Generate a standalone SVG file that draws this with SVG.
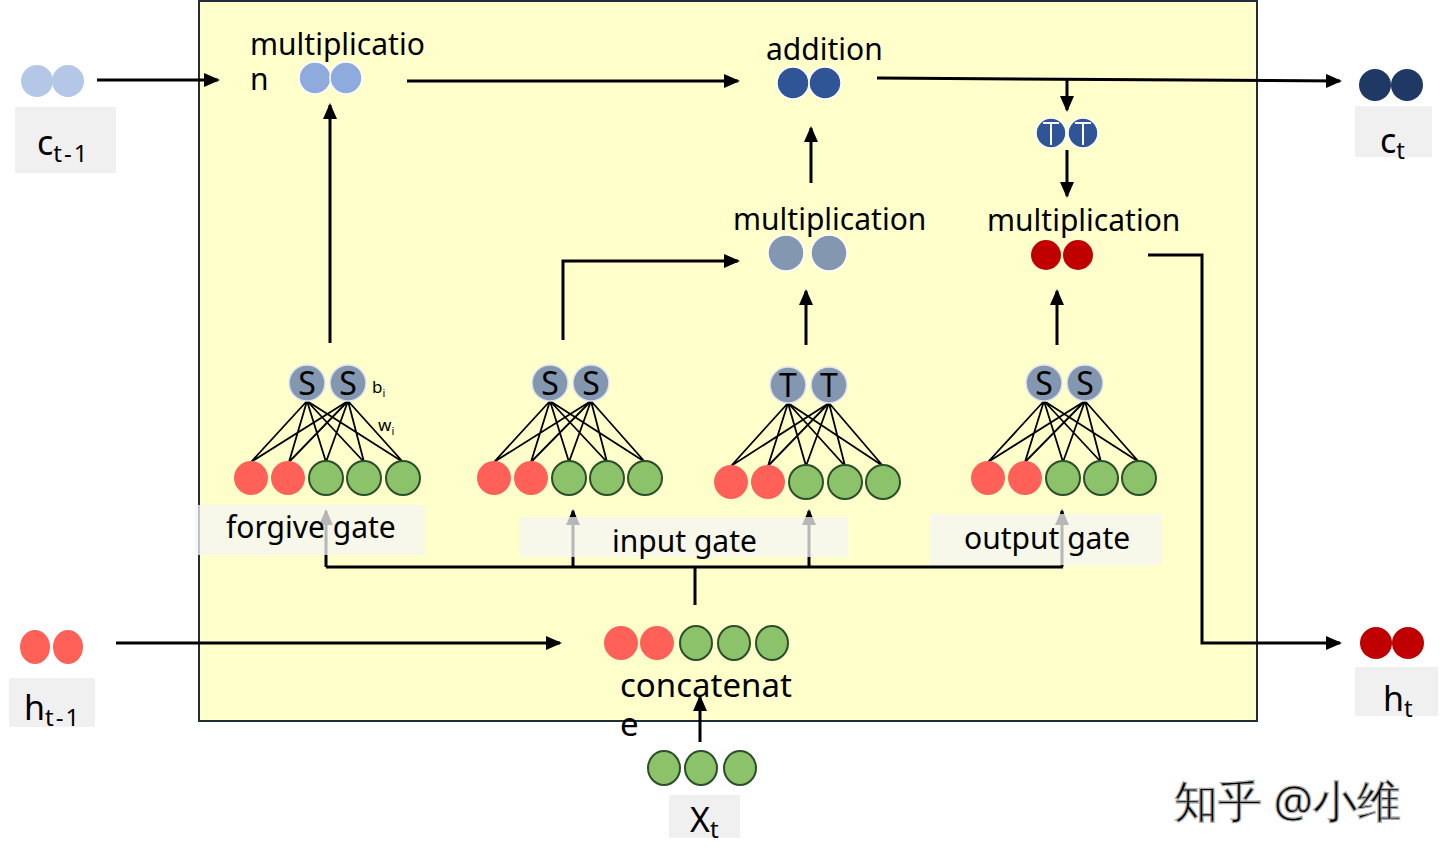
<svg xmlns="http://www.w3.org/2000/svg" width="1440" height="861" viewBox="0 0 1440 861">
<defs>
<marker id="ah" markerUnits="userSpaceOnUse" markerWidth="16" markerHeight="14" refX="14" refY="7" orient="auto"><path d="M0,0 L16,7 L0,14 z" fill="#000"/></marker>
</defs>
<style>
text{font-family:"Noto Sans","Open Sans","Liberation Sans",sans-serif;fill:#000}
.t{font-size:30px}
.lbl{fill:#f0f0f0}
.glbl{fill:#f4f4f4;opacity:0.75}
.ln{stroke:#000;stroke-width:3;fill:none}
.w{stroke:#000;stroke-width:1.8}
.sn{fill:#8497b0;stroke:#dfe4ee;stroke-width:1.5}
.red{fill:#ff6158}
.grn{fill:#8cc26a;stroke:#2b4f2b;stroke-width:2}
.sym{font-size:32px;text-anchor:middle}
.sub{font-size:24px;letter-spacing:2px}
</style>
<rect x="199" y="1" width="1058" height="720" fill="#ffffcc" stroke="#222d3a" stroke-width="2"/>

<g id="connectors">
<line class="ln" x1="97" y1="80" x2="218" y2="80" marker-end="url(#ah)"/>
<line class="ln" x1="407" y1="81" x2="738" y2="81" marker-end="url(#ah)"/>
<line class="ln" x1="877" y1="78" x2="1340" y2="81" marker-end="url(#ah)"/>
<line class="ln" x1="1067" y1="80" x2="1067" y2="110" marker-end="url(#ah)"/>
<line class="ln" x1="1067" y1="150" x2="1067" y2="196" marker-end="url(#ah)"/>
<line class="ln" x1="330" y1="343" x2="330" y2="105" marker-end="url(#ah)"/>
<polyline class="ln" points="563,340 563,261 738,261" marker-end="url(#ah)"/>
<line class="ln" x1="811" y1="183" x2="811" y2="128" marker-end="url(#ah)"/>
<line class="ln" x1="806" y1="345" x2="806" y2="291" marker-end="url(#ah)"/>
<line class="ln" x1="1057" y1="345" x2="1057" y2="291" marker-end="url(#ah)"/>
<polyline class="ln" points="1148,255 1202,255 1202,643 1340,643" marker-end="url(#ah)"/>
<line class="ln" x1="116" y1="643" x2="560" y2="643" marker-end="url(#ah)"/>
<line class="ln" x1="700" y1="742" x2="700" y2="697" marker-end="url(#ah)"/>
<polyline class="ln" points="695,605 695,567"/>
<line class="ln" x1="326" y1="567" x2="1063" y2="567"/>
<line class="ln" x1="326" y1="567" x2="326" y2="511" marker-end="url(#ah)"/>
<line class="ln" x1="573" y1="567" x2="573" y2="511" marker-end="url(#ah)"/>
<line class="ln" x1="809" y1="567" x2="809" y2="511" marker-end="url(#ah)"/>
<line class="ln" x1="1062" y1="567" x2="1062" y2="511" marker-end="url(#ah)"/>
</g>

<g id="c_prev">
<circle cx="37" cy="81" r="16" fill="#b4c7e7"/><circle cx="68" cy="81" r="16" fill="#b4c7e7"/>
<rect class="lbl" x="15" y="107" width="101" height="66"/>
<text x="37" y="155" font-size="34">c<tspan class="sub" dy="7">t-1</tspan></text>
</g>

<g id="mult_forget">
<text class="t"><tspan x="250" y="55">multiplicatio</tspan><tspan x="250" y="90">n</tspan></text>
<circle cx="315" cy="78" r="16" fill="#8faadc" stroke="#fff" stroke-width="1.5"/><circle cx="346" cy="78" r="16" fill="#8faadc" stroke="#fff" stroke-width="1.5"/>
</g>

<g id="addition">
<text class="t" x="766" y="60">addition</text>
<circle cx="793" cy="83" r="16" fill="#2f5597" stroke="#fff" stroke-width="1.5"/><circle cx="825" cy="83" r="16" fill="#2f5597" stroke="#fff" stroke-width="1.5"/>
</g>

<g id="tanh_out">
<circle cx="1051" cy="133" r="15" fill="#2f5597" stroke="#fff" stroke-width="1.5"/><circle cx="1083" cy="133" r="15" fill="#2f5597" stroke="#fff" stroke-width="1.5"/>
<path d="M1043,123 H1059 M1051,123 V145 M1075,123 H1091 M1083,123 V145" stroke="#fff" stroke-width="2"/>
</g>

<g id="c_t">
<circle cx="1375" cy="85" r="16" fill="#1f3864"/><circle cx="1407" cy="85" r="16" fill="#1f3864"/>
<rect class="lbl" x="1355" y="106" width="77" height="51"/>
<text x="1380" y="153" font-size="34">c<tspan class="sub" dy="6">t</tspan></text>
</g>

<g id="mult_input">
<text class="t" x="733" y="230">multiplication</text>
<circle cx="786" cy="253" r="18" fill="#8497b0" stroke="#fff" stroke-width="1.5"/><circle cx="829" cy="253" r="18" fill="#8497b0" stroke="#fff" stroke-width="1.5"/>
</g>

<g id="mult_output">
<text class="t" x="987" y="231">multiplication</text>
<circle cx="1046" cy="255" r="15" fill="#c00000"/><circle cx="1078" cy="255" r="15" fill="#c00000"/>
</g>

<g id="h_t">
<circle cx="1376" cy="643" r="16" fill="#c00000"/><circle cx="1408" cy="643" r="16" fill="#c00000"/>
<rect class="lbl" x="1355" y="667" width="83" height="49"/>
<text x="1383" y="711" font-size="34">h<tspan class="sub" dy="6">t</tspan></text>
</g>

<g id="forget_gate">
<path class="w" d="M307,401 L251,462 M307,401 L289,462 M307,401 L326,462 M307,401 L364,462 M307,401 L403,462 M348,401 L251,462 M348,401 L289,462 M348,401 L326,462 M348,401 L364,462 M348,401 L403,462"/>
<circle class="sn" cx="307" cy="383" r="18"/><circle class="sn" cx="348" cy="383" r="18"/>
<text class="sym" x="307" y="395">S</text><text class="sym" x="348" y="395">S</text>
<text x="372" y="393" font-size="17" fill="#333">b<tspan font-size="11" dy="4">i</tspan></text>
<text x="378" y="431" font-size="17" fill="#333">w<tspan font-size="11" dy="4">i</tspan></text>
<circle class="red" cx="251" cy="478" r="17"/><circle class="red" cx="288" cy="478" r="17"/>
<circle class="grn" cx="326" cy="478" r="17"/><circle class="grn" cx="364" cy="478" r="17"/><circle class="grn" cx="403" cy="478" r="17"/>
<rect class="glbl" x="195" y="505" width="230" height="50"/>
<text class="t" x="226" y="538">forgive gate</text>
</g>

<g id="input_gate">
<path class="w" d="M550,401 L494,462 M550,401 L531,462 M550,401 L569,462 M550,401 L607,462 M550,401 L645,462 M591,401 L494,462 M591,401 L531,462 M591,401 L569,462 M591,401 L607,462 M591,401 L645,462"/>
<circle class="sn" cx="550" cy="383" r="18"/><circle class="sn" cx="591" cy="383" r="18"/>
<text class="sym" x="550" y="395">S</text><text class="sym" x="591" y="395">S</text>
<circle class="red" cx="494" cy="478" r="17"/><circle class="red" cx="531" cy="478" r="17"/>
<circle class="grn" cx="569" cy="478" r="17"/><circle class="grn" cx="607" cy="478" r="17"/><circle class="grn" cx="645" cy="478" r="17"/>
<path class="w" d="M788,403 L731,466 M788,403 L768,466 M788,403 L806,466 M788,403 L845,466 M788,403 L883,466 M829,403 L731,466 M829,403 L768,466 M829,403 L806,466 M829,403 L845,466 M829,403 L883,466"/>
<circle class="sn" cx="788" cy="385" r="18"/><circle class="sn" cx="829" cy="385" r="18"/>
<text class="sym" x="788" y="397">T</text><text class="sym" x="829" y="397">T</text>
<circle class="red" cx="731" cy="482" r="17"/><circle class="red" cx="768" cy="482" r="17"/>
<circle class="grn" cx="806" cy="482" r="17"/><circle class="grn" cx="845" cy="482" r="17"/><circle class="grn" cx="883" cy="482" r="17"/>
<rect class="glbl" x="520" y="517" width="328" height="40"/>
<text class="t" x="612" y="552">input gate</text>
</g>

<g id="output_gate">
<path class="w" d="M1044,401 L988,462 M1044,401 L1025,462 M1044,401 L1063,462 M1044,401 L1101,462 M1044,401 L1139,462 M1085,401 L988,462 M1085,401 L1025,462 M1085,401 L1063,462 M1085,401 L1101,462 M1085,401 L1139,462"/>
<circle class="sn" cx="1044" cy="383" r="18"/><circle class="sn" cx="1085" cy="383" r="18"/>
<text class="sym" x="1044" y="395">S</text><text class="sym" x="1085" y="395">S</text>
<circle class="red" cx="988" cy="478" r="17"/><circle class="red" cx="1025" cy="478" r="17"/>
<circle class="grn" cx="1063" cy="478" r="17"/><circle class="grn" cx="1101" cy="478" r="17"/><circle class="grn" cx="1139" cy="478" r="17"/>
<rect class="glbl" x="930" y="514" width="232" height="51"/>
<text class="t" x="964" y="549">output gate</text>
</g>

<g id="h_prev">
<ellipse class="red" cx="35" cy="647" rx="15" ry="17"/><ellipse class="red" cx="68" cy="647" rx="15" ry="17"/>
<rect class="lbl" x="9" y="678" width="86" height="49"/>
<text x="24" y="720" font-size="34">h<tspan class="sub" dy="6">t-1</tspan></text>
</g>

<g id="concatenate">
<ellipse class="red" cx="621" cy="643" rx="17" ry="17"/><ellipse class="red" cx="657" cy="643" rx="17" ry="17"/>
<ellipse class="grn" cx="696" cy="643" rx="16" ry="17"/><ellipse class="grn" cx="734" cy="643" rx="16" ry="17"/><ellipse class="grn" cx="772" cy="643" rx="16" ry="17"/>
<text font-size="33"><tspan x="620" y="697">concatenat</tspan><tspan x="620" y="736">e</tspan></text>
</g>

<g id="x_t">
<ellipse class="grn" cx="664" cy="768" rx="16" ry="17"/><ellipse class="grn" cx="701" cy="768" rx="16" ry="17"/><ellipse class="grn" cx="740" cy="768" rx="16" ry="17"/>
<rect class="lbl" x="669" y="795" width="71" height="43"/>
<text x="690" y="832" font-size="34">X<tspan class="sub" dy="6">t</tspan></text>
</g>

<g id="watermark">
<text x="1174" y="817" font-size="44" font-family="'Noto Sans CJK SC',sans-serif" fill="#f0f0f0" stroke="#a8a8a8" stroke-width="1.2">知乎 @小维</text>
</g>
</svg>
